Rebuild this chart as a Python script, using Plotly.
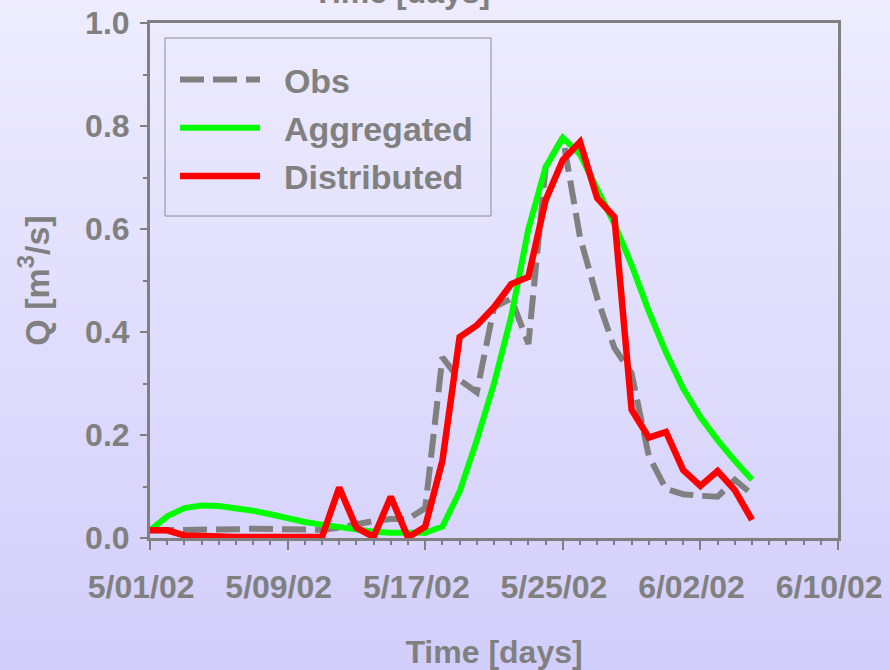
import pandas as pd
import plotly.graph_objects as go

# ---- data (daily values) ----
start_date = "2002-05-01"
n_days = 36
dates = pd.date_range(start_date, periods=n_days, freq="D")

obs = [0.015, 0.015, 0.016, 0.016, 0.017, 0.017, 0.018, 0.018, 0.018, 0.016,
       0.016, 0.020, 0.027, 0.033, 0.037, 0.037, 0.058, 0.351, 0.307, 0.283,
       0.448, 0.465, 0.377, 0.720, 0.778, 0.584, 0.466, 0.369, 0.320, 0.159,
       0.095, 0.085, 0.082, 0.080, 0.113, 0.085]

aggregated = [0.015, 0.042, 0.058, 0.063, 0.062, 0.058, 0.053, 0.046, 0.038, 0.031,
              0.026, 0.021, 0.016, 0.012, 0.010, 0.010, 0.010, 0.022, 0.090, 0.190,
              0.300, 0.430, 0.600, 0.720, 0.777, 0.745, 0.680, 0.610, 0.530, 0.440,
              0.360, 0.290, 0.235, 0.190, 0.150, 0.113]

distributed = [0.015, 0.015, 0.005, 0.003, 0.002, 0.002, 0.002, 0.002, 0.002, 0.002,
               0.002, 0.098, 0.020, 0.002, 0.080, 0.001, 0.022, 0.150, 0.390, 0.413,
               0.448, 0.493, 0.507, 0.656, 0.734, 0.769, 0.660, 0.623, 0.249, 0.195,
               0.206, 0.132, 0.101, 0.130, 0.093, 0.035]

series_names = ["Obs", "Aggregated", "Distributed"]
x_range = ["2002-05-01", "2002-06-10"]
y_range = [0, 1.0]

GRAY = "#808080"
FONT = "Liberation Sans, Arial, sans-serif"
PAD = "\u00a0\u00a0"

fig = go.Figure()
fig.add_trace(go.Scatter(x=dates, y=obs, name=PAD + series_names[0], mode="lines",
                         legendgroup="a",
                         line=dict(color=GRAY, width=6, dash="24px,9px")))
fig.add_trace(go.Scatter(x=dates, y=aggregated, name=PAD + series_names[1], mode="lines",
                         legendgroup="b",
                         line=dict(color="#00FF00", width=6)))
fig.add_trace(go.Scatter(x=dates, y=distributed, name=PAD + series_names[2], mode="lines",
                         legendgroup="c",
                         line=dict(color="#FF0000", width=6.5)))

# ---- geometry ----
W, H = 890, 670
L, R, T, B = 150, 52, 23, 132
pw, ph = W - L - R, H - T - B


def px(x):
    return (x - L) / pw


def py(y):
    return (H - B - y) / ph


# ---- background gradient (paper strips) ----
top_c = (238, 236, 254)
bot_c = (210, 206, 251)
shapes = []
step = 5
for y0 in range(0, H, step):
    f = (y0 + step / 2) / H
    c = tuple(round(top_c[i] + (bot_c[i] - top_c[i]) * f) for i in range(3))
    shapes.append(dict(type="rect", xref="paper", yref="paper",
                       x0=px(-5), x1=px(W + 5),
                       y0=py(y0 + step) - 0.001, y1=py(y0) + 0.001,
                       fillcolor="rgb(%d,%d,%d)" % c, line=dict(width=0),
                       layer="below"))
# legend frame
shapes.append(dict(type="rect", xref="paper", yref="paper",
                   x0=px(165), x1=px(491), y0=py(216), y1=py(38),
                   line=dict(color="#8c8c8c", width=1), fillcolor="rgba(0,0,0,0)",
                   layer="below"))

tickfont = dict(family=FONT, size=32, color=GRAY, weight="bold")

fig.update_layout(
    width=W, height=H,
    margin=dict(l=L, r=R, t=T, b=B, autoexpand=False),
    paper_bgcolor="rgb(224,221,253)",
    plot_bgcolor="rgba(0,0,0,0)",
    shapes=shapes,
    showlegend=True,
    legend=dict(x=px(175), y=py(51), xanchor="left", yanchor="top",
                bgcolor="rgba(0,0,0,0)", borderwidth=0,
                font=dict(family=FONT, size=34, color=GRAY, weight="bold"),
                itemwidth=80, tracegroupgap=1),
    xaxis=dict(type="date", range=x_range, tick0="2002-05-01", dtick=8 * 86400000,
               tickformat="%-m/%d/%y\u00a0\u00a0", showgrid=False, zeroline=False,
               automargin=False,
               showline=True, linecolor=GRAY, linewidth=3, mirror=True,
               ticks="outside", ticklen=9, tickwidth=2, tickcolor=GRAY,
               minor=dict(dtick=86400000, ticks="outside", ticklen=4,
                          tickwidth=1.5, tickcolor=GRAY, showgrid=False),
               tickfont=tickfont, ticklabelstandoff=10, ticklabeloverflow="allow",
               title=dict(text="Time [days]", standoff=44,
                          font=dict(family=FONT, size=32, color=GRAY, weight="bold"))),
    yaxis=dict(range=y_range, dtick=0.2, tickformat=".1f", showgrid=False, zeroline=False,
               automargin=False,
               showline=True, linecolor=GRAY, linewidth=3, mirror=True,
               ticks="outside", ticklen=7, tickwidth=2, tickcolor=GRAY,
               minor=dict(dtick=0.1, ticks="outside", ticklen=4, tickwidth=1.5,
                          tickcolor=GRAY, showgrid=False),
               tickfont=tickfont, ticklabelstandoff=4, ticklabeloverflow="allow",
               title=dict(text="Q [m<sup>3</sup>/s]", standoff=26,
                          font=dict(family=FONT, size=34, color=GRAY, weight="bold"))),
    annotations=[dict(text="Time [days]", xref="paper", yref="paper",
                      x=px(401), y=py(12), xanchor="center",
                      yanchor="bottom", showarrow=False,
                      font=dict(family=FONT, size=32, color=GRAY, weight="bold"))],
)

fig.write_html("out.html")
